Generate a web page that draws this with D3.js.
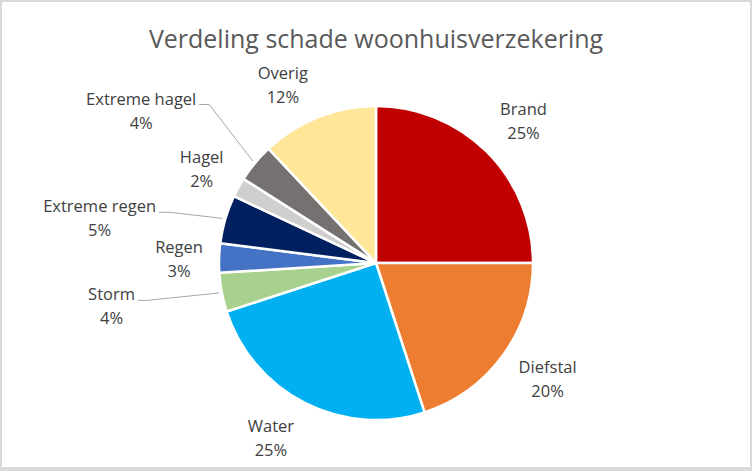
<!DOCTYPE html>
<html>
<head>
<meta charset="utf-8">
<script src="https://cdn.jsdelivr.net/npm/d3@7"></script>
<style>
  body { margin: 0; background: #fff; }
  text { font-family: "Open Sans", sans-serif; }
</style>
</head>
<body>
<svg id="chart" width="752" height="471"></svg>
<script>
// data
var categories = ["Brand", "Diefstal", "Water", "Storm", "Regen", "Extreme regen", "Hagel", "Extreme hagel", "Overig"];
var values = [25, 20, 25, 4, 3, 5, 2, 4, 12];
var colors = ["#C00000", "#ED7D31", "#00B0F0", "#A9D18E", "#4472C4", "#002060", "#D0CECE", "#767171", "#FFE699"];
var title = "Verdeling schade woonhuisverzekering";

// label placement (radius + angle tweak in degrees), leader lines for the far ones
var labelPlace = {
  "Brand": {r: 205, da: 1},
  "Diefstal": {r: 207, da: -2},
  "Water": {r: 204, da: 4},
  "Storm": {r: 268, da: 1.5, leader: true},
  "Regen": {r: 197, da: -0.5},
  "Extreme regen": {r: 280, da: -7, leader: true},
  "Hagel": {r: 198, da: -0.5},
  "Extreme hagel": {r: 280, da: -6.6, leader: true},
  "Overig": {r: 201, da: -6}
};

var svg = d3.select("#chart"),
    width = +svg.attr("width"),
    height = +svg.attr("height");

// chart frame
svg.append("rect").attr("width", width).attr("height", height).attr("fill", "#D9D9D9");
svg.append("rect").attr("x", 2).attr("y", 2).attr("width", width - 4).attr("height", height - 6).attr("fill", "#fff");

svg.append("text")
  .attr("x", 376)
  .attr("y", 48)
  .attr("text-anchor", "middle")
  .attr("fill", "#595959")
  .style("font-size", "25px")
  .text(title);

var cx = 376, cy = 263, radius = 157;
var g = svg.append("g").attr("transform", "translate(" + cx + "," + cy + ")");

var table = categories.map(function(c, i) { return {name: c, value: values[i], color: colors[i]}; });

var pie = d3.pie()
  .sort(null)
  .value(function(d) { return d.value; });

var arc = d3.arc()
  .outerRadius(radius)
  .innerRadius(0);

var slices = pie(table);

g.selectAll(".slice")
  .data(slices)
  .enter().append("path")
  .attr("class", "slice")
  .attr("d", arc)
  .attr("fill", function(d) { return d.data.color; })
  .attr("stroke", "#fff")
  .attr("stroke-width", 2.5)
  .attr("stroke-linejoin", "round");

function polar(angle, r) {
  return [Math.sin(angle) * r, -Math.cos(angle) * r];
}

var labels = g.selectAll(".label")
  .data(slices)
  .enter().append("g")
  .attr("class", "label")
  .attr("transform", function(d) {
    var p = labelPlace[d.data.name];
    var a = (d.startAngle + d.endAngle) / 2 + p.da * Math.PI / 180;
    return "translate(" + polar(a, p.r) + ")";
  });

labels.append("text")
  .attr("class", "name")
  .attr("text-anchor", "middle")
  .attr("y", -6)
  .attr("fill", "#404040")
  .style("font-size", "16.5px")
  .text(function(d) { return d.data.name; });

labels.append("text")
  .attr("text-anchor", "middle")
  .attr("y", 18)
  .attr("fill", "#404040")
  .style("font-size", "16.5px")
  .text(function(d) { return d.data.value + "%"; });

// leader lines
labels.each(function(d) {
  var p = labelPlace[d.data.name];
  if (!p.leader) return;
  var a = (d.startAngle + d.endAngle) / 2;
  var la = a + p.da * Math.PI / 180;
  var pos = polar(la, p.r);
  var w = d3.select(this).select(".name").node().getComputedTextLength();
  var x0 = pos[0] + w / 2 + 3, y0 = pos[1] - 6;
  var end = polar(a, radius + 3);
  g.append("polyline")
    .attr("points", [[x0, y0], [x0 + 10, y0], end].join(" "))
    .attr("fill", "none")
    .attr("stroke", "#A6A6A6")
    .attr("stroke-width", 1);
});
</script>
</body>
</html>
